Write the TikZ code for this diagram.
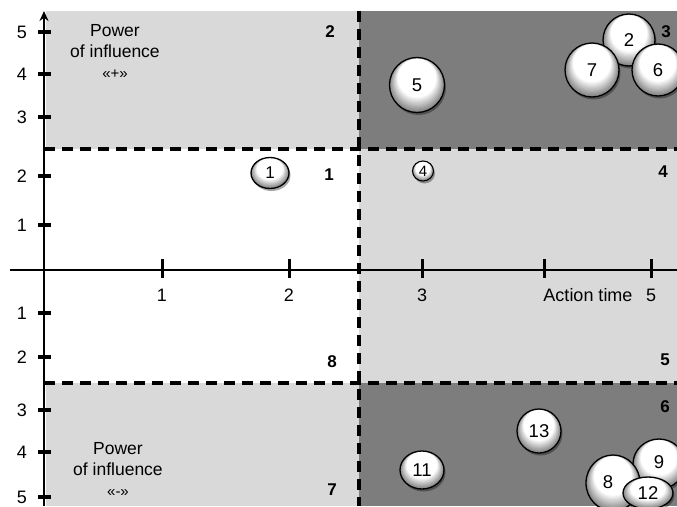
\documentclass[tikz,border=0pt]{standalone}
\usepackage{fontspec}
\setmainfont{Liberation Sans}
\usetikzlibrary{arrows.meta,shapes.geometric}

\definecolor{zonelight}{gray}{0.85}
\definecolor{zonedark}{gray}{0.49}

\tikzset{
  divider/.style={line width=3.4pt, dash pattern=on 11pt off 7pt},
  axisline/.style={line width=2.6pt},
  ytick/.style={line width=3.6pt},
  xtick/.style={line width=3pt},
  ticklabel/.style={font=\fontsize{18}{18}\selectfont, inner sep=0pt},
  zonenum/.style={font=\bfseries\fontsize{17}{17}\selectfont, inner sep=0pt},
  caption/.style={font=\fontsize{17.5}{21}\selectfont, align=center, inner sep=0pt},
  ballrim/.style={ellipse, draw=black, line width=1.3pt, inner sep=0pt,
    font=\fontsize{18.5}{18.5}\selectfont},
  ballshadow/.style={fill=black, opacity=0.35},
}

% a pearl-like ball: soft shadow, layered grey-to-white body, black rim
% #1 name, #2 x, #3 y, #4 x-radius, #5 y-radius, #6 extra options, #7 text
\newcommand\pearlball[7]{%
  \fill[ballshadow] ({#2+1.5},{#3+2.5}) ellipse ({#4} and {#5});
  \begin{scope}
    \clip (#2,#3) ellipse ({#4} and {#5});
    \foreach \k in {0,...,12}{%
      \pgfmathsetmacro\ballpc{48*(1-\k/12)}%
      \fill[black!\ballpc] (#2,{#3-0.25*#5*\k/12})
        ellipse ({#4*(1-0.3*\k/12)} and {#5*(1-0.3*\k/12)});
    }
  \end{scope}
  \node[ballrim, minimum width={2*#4pt}, minimum height={2*#5pt}, #6]
    (#1) at (#2,#3) {#7};
}

\begin{document}
\begin{tikzpicture}[x=1pt,y=-1pt]
  \clip (0,0) rectangle (677,506);
  \fill[white] (0,0) rectangle (677,506);

  % zones of the plane
  \fill[zonelight] (46,11) rectangle (359,149);
  \fill[zonedark]  (359,11) rectangle (677,149);
  \fill[zonelight] (359,149) rectangle (677,383);
  \fill[zonelight] (46,383) rectangle (359,506);
  \fill[zonedark]  (359,383) rectangle (677,506);

  % zone dividers
  \coordinate (hA1) at (44,149);  \coordinate (hA2) at (677,149);
  \coordinate (hB1) at (44,383);  \coordinate (hB2) at (677,383);
  \coordinate (v1)  at (359,11);  \coordinate (v2)  at (359,506);
  \draw[divider] (hA1) -- (hA2);
  \draw[divider] (hB1) -- (hB2);
  \draw[divider] (v1) -- (v2);

  % axes
  \coordinate (xs) at (10,270);  \coordinate (xe) at (677,270);
  \coordinate (ys) at (44,506);  \coordinate (ye) at (44,11);
  \draw[axisline] (xs) -- (xe);
  \draw[axisline, -{Stealth[length=10pt,width=9pt]}] (ys) -- (ye);

  % vertical scale, upper half
  \foreach \v/\yy in {5/32,4/74,3/117,2/176,1/225}{
    \draw[ytick] (38,\yy) -- (51,\yy);
    \node[ticklabel] (yu\v) at (22,\yy) {\v};
  }
  % vertical scale, lower half
  \foreach \v/\yy in {1/313,2/357,3/410,4/452,5/497}{
    \draw[ytick] (38,\yy) -- (51,\yy);
    \node[ticklabel] (yl\v) at (22,\yy) {\v};
  }
  % horizontal scale
  \foreach \xx in {162,289,422,544,651}{
    \draw[xtick] (\xx,259) -- (\xx,278);
  }
  \node[ticklabel] (x1) at (162,295) {1};
  \node[ticklabel] (x2) at (289,295) {2};
  \node[ticklabel] (x3) at (422,295) {3};
  \node[ticklabel] (xt) at (588,295) {Action time};
  \node[ticklabel] (x5) at (651,295) {5};

  % zone numbers
  \node[zonenum] (z2) at (330,32)  {2};
  \node[zonenum] (z3) at (666,32)  {3};
  \node[zonenum] (z1) at (329,175) {1};
  \node[zonenum] (z4) at (663,172) {4};
  \node[zonenum] (z8) at (332,362) {8};
  \node[zonenum] (z5) at (665,360) {5};
  \node[zonenum] (z6) at (665,407) {6};
  \node[zonenum] (z7) at (332,490) {7};

  % axis captions
  \node[caption] (pplus) at (115,51)
    {Power\\of influence\\{\fontsize{15}{15}\selectfont «+»}};
  \node[caption] (pminus) at (118,469)
    {Power\\of influence\\{\fontsize{15}{15}\selectfont «-»}};

  % factor balls
  \pearlball{b1}{270}{173}{19}{15.5}{font=\fontsize{17}{17}\selectfont}{1}
  \pearlball{b4}{423}{171}{10.5}{10}{line width=1.1pt, font=\fontsize{15}{15}\selectfont}{4}
  \pearlball{b5}{417}{85}{27.5}{27.5}{}{5}
  \pearlball{b2}{629}{40}{26}{26}{}{2}
  \pearlball{b7}{592}{70}{27}{27}{}{7}
  \pearlball{b6}{658}{70}{26}{26}{}{6}
  \pearlball{b13}{539}{431}{22}{22}{}{13}
  \pearlball{b11}{422}{470}{22}{19}{}{11}
  \pearlball{b9}{659}{464}{26}{25}{}{\raisebox{4pt}{9}}
  \pearlball{b8}{613}{483}{27}{28}{}{\raisebox{1pt}{8}\hspace*{10pt}}
  \pearlball{b12}{648}{493}{25}{16}{}{12}
\end{tikzpicture}
\end{document}
